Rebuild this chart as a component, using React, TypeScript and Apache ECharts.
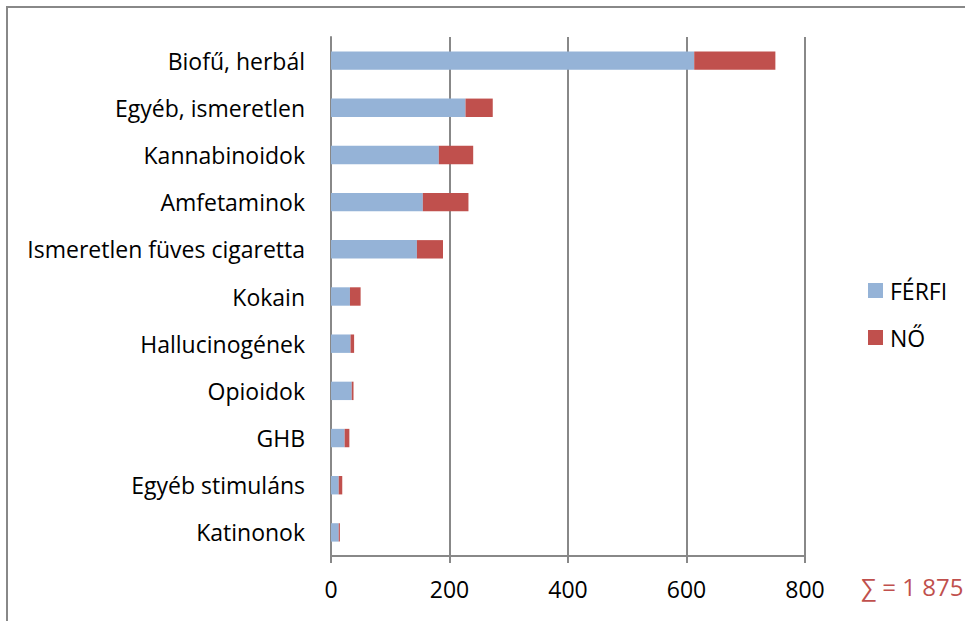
import React, { useEffect, useRef } from "react";
import * as echarts from "echarts";

const categories = [
  "Biofű, herbál",
  "Egyéb, ismeretlen",
  "Kannabinoidok",
  "Amfetaminok",
  "Ismeretlen füves cigaretta",
  "Kokain",
  "Hallucinogének",
  "Opioidok",
  "GHB",
  "Egyéb stimuláns",
  "Katinonok",
];
const ferfi = [613, 227, 182, 155, 145, 32, 33, 35, 23, 13, 13];
const no = [137, 46, 58, 77, 44, 18, 6, 3, 8, 6, 2];
const xTicks = [0, 200, 400, 600, 800];
const seriesNames = ["FÉRFI", "NŐ"];
const sumLabel = "∑ = 1 875";

const FONT = "Open Sans";
const FS = 23;

export default function App() {
  const ref = useRef<HTMLDivElement>(null);
  useEffect(() => {
    document.body.style.margin = "0";
    const chart = echarts.init(ref.current!, null, { renderer: "svg" });
    chart.setOption({
      animation: false,
      backgroundColor: "#ffffff",
      textStyle: { fontFamily: FONT },
      grid: { left: 331, right: 160, top: 37, bottom: 65, containLabel: false },
      legend: {
        orient: "vertical",
        left: 863,
        top: 274,
        itemWidth: 15,
        itemHeight: 15,
        itemGap: 24,
        icon: "rect",
        data: seriesNames,
        textStyle: { fontFamily: FONT, fontSize: FS, color: "#000", padding: [0, 0, 0, 2] },
      },
      xAxis: {
        type: "value",
        min: xTicks[0],
        max: xTicks[xTicks.length - 1],
        interval: 200,
        axisLine: { show: true, lineStyle: { color: "#888888", width: 2 } },
        axisTick: { show: true, length: 7, lineStyle: { color: "#888888", width: 2 } },
        splitLine: { show: true, lineStyle: { color: "#888888", width: 2 } },
        axisLabel: { fontFamily: FONT, fontSize: FS, color: "#000", margin: 21 },
      },
      yAxis: {
        type: "category",
        data: categories,
        inverse: true,
        axisLine: { show: true, lineStyle: { color: "#888888", width: 2 } },
        axisTick: { show: false },
        axisLabel: { fontFamily: FONT, fontSize: FS, color: "#000", margin: 26 },
      },
      series: [
        {
          name: seriesNames[0],
          type: "bar",
          stack: "total",
          data: ferfi,
          barWidth: "39%",
          itemStyle: { color: "#95b3d7" },
        },
        {
          name: seriesNames[1],
          type: "bar",
          stack: "total",
          data: no,
          barWidth: "39%",
          itemStyle: { color: "#c0504d" },
        },
      ],
      graphic: [
        {
          type: "rect",
          shape: { x: 7, y: 7, width: 1000, height: 700 },
          style: { fill: "none", stroke: "#888888", lineWidth: 2 },
          silent: true,
        },
        {
          type: "text",
          left: 861,
          top: 574,
          style: { text: sumLabel, fontFamily: FONT, fontSize: 24, fill: "#c0504d" },
        },
      ],
    });
    return () => chart.dispose();
  }, []);
  return (
    <div
      ref={ref}
      style={{ position: "absolute", left: 0, top: 0, width: 965, height: 621 }}
    />
  );
}
